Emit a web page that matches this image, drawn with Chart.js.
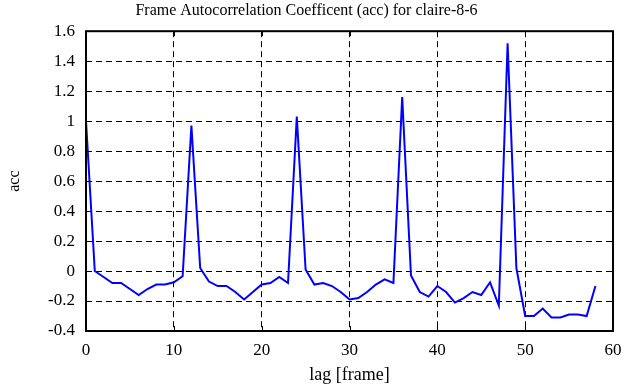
<!DOCTYPE html>
<html><head><meta charset="utf-8">
<script src="https://cdn.jsdelivr.net/npm/chart.js@4/dist/chart.umd.min.js"></script>
<style>html,body{margin:0;padding:0;background:#fff}#wrap{width:625px;height:387px}</style>
</head><body><div id="wrap"><canvas id="c" width="625" height="387"></canvas></div>
<script>
const lags = [0,1,2,3,4,5,6,7,8,9,10,11,12,13,14,15,16,17,18,19,20,21,22,23,24,25,26,27,28,29,30,31,32,33,34,35,36,37,38,39,40,41,42,43,44,45,46,47,48,49,50,51,52,53,54,55,56,57,58];
const acc = [1.0,0.0,-0.04,-0.08,-0.08,-0.12,-0.16,-0.12,-0.09,-0.09,-0.075,-0.035,0.97,0.02,-0.07,-0.10,-0.10,-0.14,-0.19,-0.14,
  -0.09,-0.08,-0.04,-0.08,1.03,0.01,-0.09,-0.08,-0.10,-0.14,-0.19,-0.18,-0.14,-0.09,-0.055,-0.08,1.16,-0.03,-0.14,-0.17,
  -0.10,-0.14,-0.21,-0.18,-0.14,-0.16,-0.075,-0.23,1.52,0.02,-0.30,-0.30,-0.25,-0.31,-0.31,-0.29,-0.29,-0.30,-0.10];
const xTicks = [0,10,20,30,40,50,60];
const yTicks = [-0.4,-0.2,0,0.2,0.4,0.6,0.8,1,1.2,1.4,1.6];
const titleText = 'Frame Autocorrelation Coefficent (acc) for claire-8-6';
const xTitle = 'lag [frame]';
const yTitle = 'acc';

const FONT = "'Liberation Serif','DejaVu Serif',serif";

const frame = {
  id: 'frame',
  afterDatasetsDraw(chart) {
    const {ctx, chartArea: a, scales: {x, y}} = chart;
    ctx.save();
    ctx.strokeStyle = '#000';
    ctx.lineWidth = 1;
    ctx.beginPath();
    const L = 5;
    xTicks.forEach(v => {
      const px = Math.round(x.getPixelForValue(v)) + 0.5;
      ctx.moveTo(px, a.bottom); ctx.lineTo(px, a.bottom - L);
      ctx.moveTo(px, a.top); ctx.lineTo(px, a.top + L);
    });
    yTicks.forEach(v => {
      const py = Math.round(y.getPixelForValue(v)) + 0.5;
      ctx.moveTo(a.left, py); ctx.lineTo(a.left + L, py);
      ctx.moveTo(a.right, py); ctx.lineTo(a.right - L, py);
    });
    ctx.stroke();
    ctx.lineWidth = 2;
    ctx.strokeRect(a.left, a.top, a.right - a.left, a.bottom - a.top);
    ctx.restore();
  }
};

new Chart(document.getElementById('c'), {
  type: 'line',
  data: {
    datasets: [{
      data: lags.map((l, i) => ({x: l, y: acc[i]})),
      borderColor: '#0000ff',
      borderWidth: 2,
      pointRadius: 0,
      tension: 0,
      fill: false
    }]
  },
  options: {
    responsive: false,
    animation: false,
    layout: {padding: {left: 0, right: 12, top: 0, bottom: 1}},
    plugins: {
      legend: {display: false},
      tooltip: {enabled: false},
      title: {display: true, text: titleText, color: '#000',
        font: {family: FONT, size: 16, weight: 'normal'}, padding: {top: 1, bottom: 11}}
    },
    scales: {
      x: {
        type: 'linear', min: 0, max: 60,
        afterBuildTicks: s => { s.ticks = xTicks.map(v => ({value: v})); },
        afterFit: s => { s.height = 55; s.paddingLeft = 0; s.paddingRight = 0; },
        ticks: {color: '#000', font: {family: FONT, size: 17}, padding: 9, maxRotation: 0,
          callback: v => String(v)},
        grid: {color: '#000', lineWidth: 1, drawTicks: false},
        border: {display: false, dash: [6, 4]},
        title: {display: true, text: xTitle, color: '#000', font: {family: FONT, size: 18}, padding: {top: 4, bottom: 0}}
      },
      y: {
        type: 'linear', min: -0.4, max: 1.6,
        afterBuildTicks: s => { s.ticks = yTicks.map(v => ({value: v})); },
        afterFit: s => { s.width = 86; s.paddingTop = 0; s.paddingBottom = 0; },
        ticks: {color: '#000', font: {family: FONT, size: 17}, padding: 11,
          callback: v => String(Number(v.toFixed(1)))},
        grid: {color: '#000', lineWidth: 1, drawTicks: false},
        border: {display: false, dash: [6, 4]},
        title: {display: true, text: yTitle, color: '#000', font: {family: FONT, size: 16}, padding: {top: 5, bottom: 30}}
      }
    }
  },
  plugins: [frame]
});
</script>
</body></html>
